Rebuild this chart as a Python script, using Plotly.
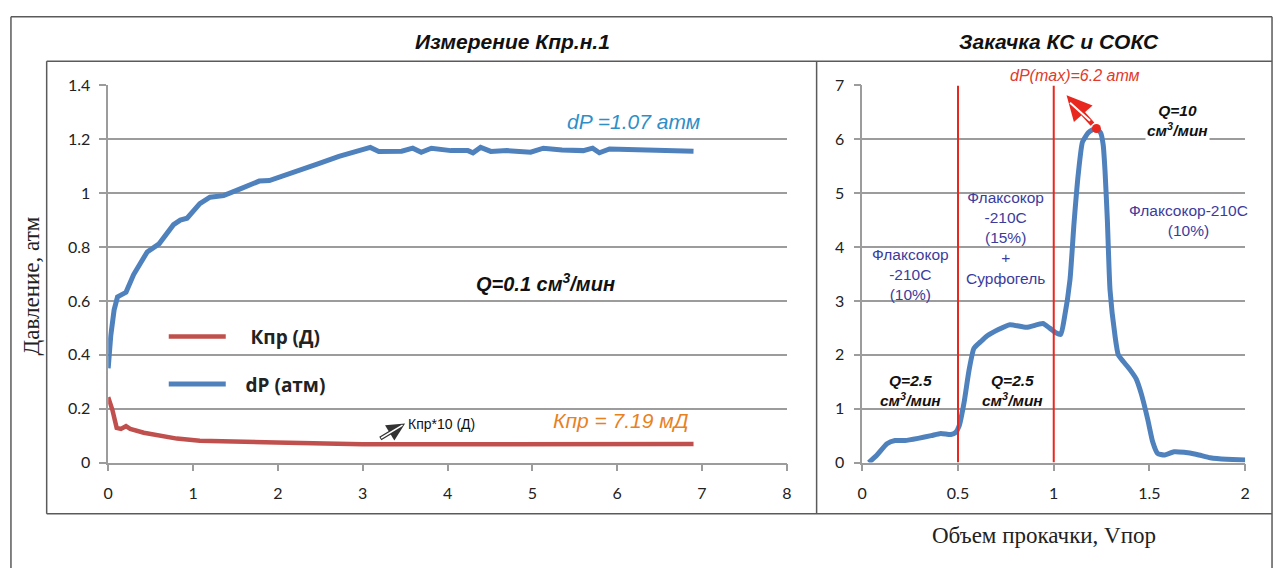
import plotly.graph_objects as go

W, H = 1280, 577

# --- Left panel: Kpr measurement at Q = 0.1 cm3/min ---
meas_x = [0, 0.03, 0.07, 0.11, 0.21, 0.30, 0.46, 0.60, 0.77, 0.85, 0.93, 1.08, 1.20,
          1.36, 1.55, 1.78, 1.90, 2.09, 2.25, 2.48, 2.72, 2.91, 3.09, 3.19, 3.46,
          3.59, 3.69, 3.81, 4.04, 4.24, 4.30, 4.39, 4.51, 4.70, 4.98, 5.13, 5.35,
          5.60, 5.71, 5.79, 5.91, 6.90]
dp_meas = [0.35, 0.47, 0.567, 0.615, 0.632, 0.698, 0.782, 0.812, 0.883, 0.90, 0.907,
           0.961, 0.985, 0.991, 1.015, 1.045, 1.047, 1.069, 1.087, 1.110, 1.137,
           1.152, 1.170, 1.155, 1.156, 1.167, 1.152, 1.167, 1.158, 1.158, 1.150,
           1.170, 1.155, 1.158, 1.152, 1.167, 1.160, 1.158, 1.167, 1.150, 1.164, 1.156]

kpr_x = [0, 0.05, 0.10, 0.15, 0.21, 0.26, 0.42, 0.62, 0.81, 1.08, 1.47, 1.98, 2.56,
         3.0, 4.0, 5.0, 6.0, 6.9]
kpr_meas = [0.243, 0.195, 0.129, 0.125, 0.135, 0.125, 0.111, 0.101, 0.089, 0.081,
            0.077, 0.075, 0.071, 0.068, 0.068, 0.068, 0.069, 0.069]

# --- Right panel: injection of KS and SOKS ---
inj_x = [0.034, 0.077, 0.129, 0.171, 0.223, 0.291, 0.36, 0.41, 0.463, 0.488, 0.506,
         0.531, 0.557, 0.583, 0.617, 0.651, 0.711, 0.771, 0.857, 0.943, 0.977, 1.011,
         1.037, 1.054, 1.085, 1.105, 1.128, 1.150, 1.18, 1.205, 1.223, 1.245, 1.258,
         1.268, 1.28, 1.294, 1.32, 1.337, 1.362, 1.397, 1.431, 1.457, 1.491, 1.517,
         1.542, 1.577, 1.628, 1.68, 1.748, 1.817, 1.902, 2.0]
dp_inj = [0, 0.14, 0.35, 0.41, 0.41, 0.45, 0.50, 0.54, 0.52, 0.56, 0.68, 1.10, 1.70,
          2.12, 2.24, 2.35, 2.47, 2.56, 2.51, 2.58, 2.50, 2.41, 2.38, 2.65, 3.40, 4.40,
          5.35, 5.95, 6.12, 6.18, 6.2, 6.12, 5.9, 5.4, 4.5, 3.2, 2.35, 2.0, 1.88, 1.73,
          1.55, 1.28, 0.80, 0.38, 0.17, 0.14, 0.20, 0.19, 0.15, 0.09, 0.06, 0.05]

peak_x, peak_dp = 1.223, 6.2
stage_bounds = [0.5, 1.0]

BLUE = "#4f81bd"
RED = "#c0504d"
GRID = "#9c9c9c"
FRAME = "#5a5a5a"
NAVY = "#3c3c9c"
SANS = "Liberation Sans"
SERIF = "Liberation Serif"
TICKFONT = dict(family="Lato", size=16, color="#222222")
NBSP = "\u00a0"


def px(x):
    return x / W


def py(y):
    return 1 - y / H


fig = go.Figure()

fig.add_trace(go.Scatter(x=kpr_x, y=kpr_meas, mode="lines", name=NBSP * 4 + "Кпр (Д)",
                         legendgroup="kpr", line=dict(color=RED, width=4.5),
                         xaxis="x", yaxis="y"))
fig.add_trace(go.Scatter(x=meas_x, y=dp_meas, mode="lines", name=NBSP * 3 + "dP (атм)",
                         legendgroup="dp", line=dict(color=BLUE, width=5),
                         xaxis="x", yaxis="y"))
fig.add_trace(go.Scatter(x=inj_x, y=dp_inj, mode="lines", showlegend=False,
                         line=dict(color=BLUE, width=5, shape="spline", smoothing=0.5),
                         xaxis="x2", yaxis="y2"))

# stage boundaries
for b in stage_bounds:
    fig.add_trace(go.Scatter(x=[b, b], y=[0, 7], mode="lines", showlegend=False,
                             line=dict(color="#e8281e", width=2), xaxis="x2", yaxis="y2"))

fig.add_trace(go.Scatter(x=[peak_x], y=[peak_dp], mode="markers", showlegend=False,
                         marker=dict(color="#e8281e", size=9), xaxis="x2", yaxis="y2"))

axis_common = dict(showline=True, linecolor=GRID, linewidth=1.5, ticks="outside",
                   tickcolor=GRID, ticklen=7, tickwidth=1.5, tickfont=TICKFONT,
                   zeroline=False)

fig.update_layout(
    width=W, height=H,
    margin=dict(l=0, r=0, t=0, b=0),
    paper_bgcolor="white", plot_bgcolor="white",
    xaxis=dict(domain=[px(104), px(788)], range=[0, 8], dtick=1, showgrid=False,
               anchor="y", ticklabelstandoff=8, **axis_common),
    yaxis=dict(domain=[py(468), py(78)], range=[0, 1.4], dtick=0.2, showgrid=True,
               gridcolor=GRID, gridwidth=1.8, anchor="x", ticklabelstandoff=6,
               **axis_common),
    xaxis2=dict(domain=[px(864), px(1250)], range=[0, 2], dtick=0.5, showgrid=False,
                anchor="y2", ticklabelstandoff=8, **axis_common),
    yaxis2=dict(domain=[py(468), py(78)], range=[0, 7], dtick=1, showgrid=True,
                gridcolor=GRID, gridwidth=1.8, anchor="x2", ticklabelstandoff=6,
                **axis_common),
    legend=dict(x=px(160), y=py(318), xanchor="left", yanchor="top",
                bgcolor="rgba(0,0,0,0)", itemwidth=57, tracegroupgap=20,
                font=dict(family="Open Sans", size=19, color="#222222", weight="bold")),
    showlegend=True,
)

# frames around the panels
frame = dict(type="line", xref="paper", yref="paper", line=dict(color=FRAME, width=1.5))
fig.add_shape(x0=px(6), x1=px(1277), y0=py(7), y1=py(7), **frame)
fig.add_shape(x0=px(6), x1=px(6), y0=py(7), y1=py(577), **frame)
fig.add_shape(x0=px(1277), x1=px(1277), y0=py(7), y1=py(577), **frame)
fig.add_shape(x0=px(42), x1=px(1277), y0=py(53), y1=py(53), **frame)
fig.add_shape(x0=px(42), x1=px(1277), y0=py(521), y1=py(521), **frame)
fig.add_shape(x0=px(42), x1=px(42), y0=py(53), y1=py(521), **frame)
fig.add_shape(x0=px(818), x1=px(818), y0=py(53), y1=py(521), **frame)


def label(text, x, y, size=14, color="#111111", family=SANS, xref="paper", yref="paper",
          xanchor="center", **kw):
    fig.add_annotation(text=text, x=x, y=y, xref=xref, yref=yref, showarrow=False,
                       xanchor=xanchor, yanchor="middle",
                       font=dict(family=family, size=size, color=color), **kw)


# panel titles
label("<b><i>Измерение Кпр.н.1</i></b>", px(511), py(33), size=21)
label("<b><i>Закачка КС и СОКС</i></b>", px(1062), py(33), size=21)

# axis titles
label("Давление, атм", px(27), py(285), size=23, family=SERIF, color="#222222",
      textangle=-90)
label("Объем прокачки, Vпор", px(1047), py(543), size=23, family=SERIF, color="#222222")

label("<i>dP =1.07 атм</i>", px(633), py(115), size=21, color="#2e8fc8")
label("<b><i>Q=0.1 см<sup>3</sup>/мин</i></b>", px(545), py(282), size=20)
label("<i>Кпр = 7.19 мД</i>", px(621), py(424), size=21, color="#e8811f")

# pointer to the Kpr curve
fig.add_annotation(x=3.50, y=0.145, ax=3.19, ay=0.086, xref="x", yref="y",
                   axref="x", ayref="y", text="", showarrow=True, arrowhead=2,
                   arrowsize=0.9, arrowwidth=4, arrowcolor="#333333")
fig.add_annotation(x=3.47, y=0.139, ax=3.20, ay=0.088, xref="x", yref="y",
                   axref="x", ayref="y", text="", showarrow=True, arrowhead=0,
                   arrowwidth=1.5, arrowcolor="white")
label("Кпр*10 (Д)", 3.51, 0.143, size=14, xref="x", yref="y", xanchor="left")

# right panel texts
label("Флаксокор<br>-210C<br>(10%)", px(913), py(274), size=15.5, color=NAVY)
label("Флаксокор<br>-210C<br>(15%)<br>+<br>Сурфогель", px(1008), py(236), size=15.5,
      color=NAVY)
label("Флаксокор-210C<br>(10%)", px(1193), py(218), size=15.5, color=NAVY)
label("<b><i>Q=2.5<br>см<sup>3</sup>/мин</i></b>", px(913), py(393), size=15.5)
label("<b><i>Q=2.5<br>см<sup>3</sup>/мин</i></b>", px(1015), py(393), size=15.5)
label("<b><i>Q=10<br>см<sup>3</sup>/мин</i></b>", px(1182), py(114), size=15.5,
      bgcolor="white")
label("<i>dP(max)=6.2 атм</i>", px(1078), py(68), size=16, color="#e03a2a")

# pointer from the pressure peak
fig.add_annotation(x=1.067, y=6.82, ax=peak_x, ay=peak_dp, xref="x2", yref="y2",
                   axref="x2", ayref="y2", text="", showarrow=True, arrowhead=2,
                   arrowsize=1.0, arrowwidth=5, arrowcolor="#e8281e", standoff=0,
                   startstandoff=4)
fig.add_annotation(x=1.085, y=6.68, ax=peak_x - 0.01, ay=peak_dp + 0.07, xref="x2",
                   yref="y2", axref="x2", ayref="y2", text="", showarrow=True,
                   arrowhead=0, arrowwidth=2, arrowcolor="white", startstandoff=4)

fig.write_html("out.html")
